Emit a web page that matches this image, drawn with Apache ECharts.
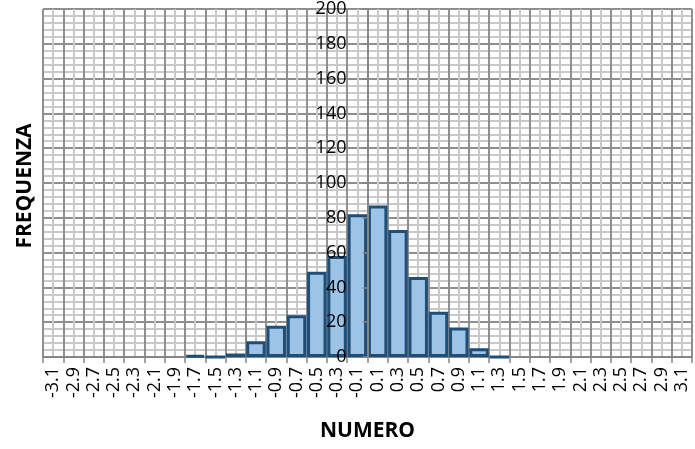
<!DOCTYPE html>
<html>
<head>
<meta charset="utf-8">
<script src="https://cdn.jsdelivr.net/npm/echarts@6/dist/echarts.min.js"></script>
<style>
html,body{margin:0;padding:0;background:#fff;}
#chart{width:695px;height:449px;}
</style>
</head>
<body>
<div id="chart"></div>
<script>
const categories = ['-3.1','-2.9','-2.7','-2.5','-2.3','-2.1','-1.9','-1.7','-1.5','-1.3','-1.1','-0.9','-0.7','-0.5','-0.3','-0.1',
                    '0.1','0.3','0.5','0.7','0.9','1.1','1.3','1.5','1.7','1.9','2.1','2.3','2.5','2.7','2.9','3.1'];
const frequencies = [null,null,null,null,null,null,null,1,0,2,9,18,24,49,58,82,
                     87,73,46,26,17,5,0,null,null,null,null,null,null,null,null,null];
const yTicks = {min:0, max:200, step:20};
const xTitle = 'NUMERO';
const yTitle = 'FREQUENZA';

const GRID_L = 43, GRID_R = 3, GRID_T = 8, GRID_B = 92;
const W = 695;
const halfW = (W - GRID_L - GRID_R) / 2;
const font = '"Open Sans", "Noto Sans", sans-serif';
const major = '#8f8f8f', minor = '#c9c9c9', axisCol = '#868686';

const chart = echarts.init(document.getElementById('chart'), null, {renderer:'canvas'});
chart.setOption({
  animation:false,
  backgroundColor:'#ffffff',
  grid:{left:GRID_L, right:GRID_R, top:GRID_T, bottom:GRID_B, containLabel:false},
  xAxis:[
    {type:'category', data:categories, boundaryGap:true, position:'bottom',
     axisLine:{show:true, lineStyle:{color:axisCol, width:2}},
     axisTick:{show:true, interval:0, length:6, lineStyle:{color:axisCol, width:1.5}},
     axisLabel:{interval:0, rotate:90, margin:10, fontSize:18, fontFamily:font, color:'#000', padding:[7,0,0,0]},
     splitLine:{show:false},
     name:xTitle, nameLocation:'middle', nameGap:64,
     nameTextStyle:{fontWeight:'bold', fontSize:21, fontFamily:font, color:'#000'}},
    {type:'value', min:0, max:categories.length, interval:1, position:'top',
     axisLine:{show:false}, axisTick:{show:false}, axisLabel:{show:false},
     splitLine:{show:true, lineStyle:{color:major, width:2}},
     minorTick:{show:false, splitNumber:2},
     minorSplitLine:{show:true, lineStyle:{color:minor, width:2}}}
  ],
  yAxis:[
    {type:'value', min:yTicks.min, max:yTicks.max, interval:yTicks.step, position:'left',
     axisLine:{show:false}, axisTick:{show:false}, axisLabel:{show:false},
     splitLine:{show:true, lineStyle:{color:major, width:2}},
     minorTick:{show:false, splitNumber:5},
     minorSplitLine:{show:true, lineStyle:{color:minor, width:2}}},
    {type:'value', min:yTicks.min, max:yTicks.max, interval:yTicks.step, position:'left',
     offset:-halfW, z:10,
     axisLine:{show:true, lineStyle:{color:axisCol, width:2}},
     axisTick:{show:true, length:5, lineStyle:{color:axisCol, width:1.5}},
     axisLabel:{margin:21, fontSize:18, fontFamily:font, color:'#000', padding:[7,0,0,0]},
     splitLine:{show:false}}
  ],
  graphic:[
    {type:'text', x:25.5, y:186, rotation:Math.PI/2,
     style:{text:yTitle, font:'bold 21px ' + font, fill:'#000', align:'center', verticalAlign:'middle'}}
  ],
  series:[
    {type:'bar', xAxisIndex:0, yAxisIndex:0, data:frequencies, barCategoryGap:'4%',
     itemStyle:{color:'#9dc3e6', borderColor:'#1f4e79', borderWidth:3}}
  ]
});
</script>
</body>
</html>
